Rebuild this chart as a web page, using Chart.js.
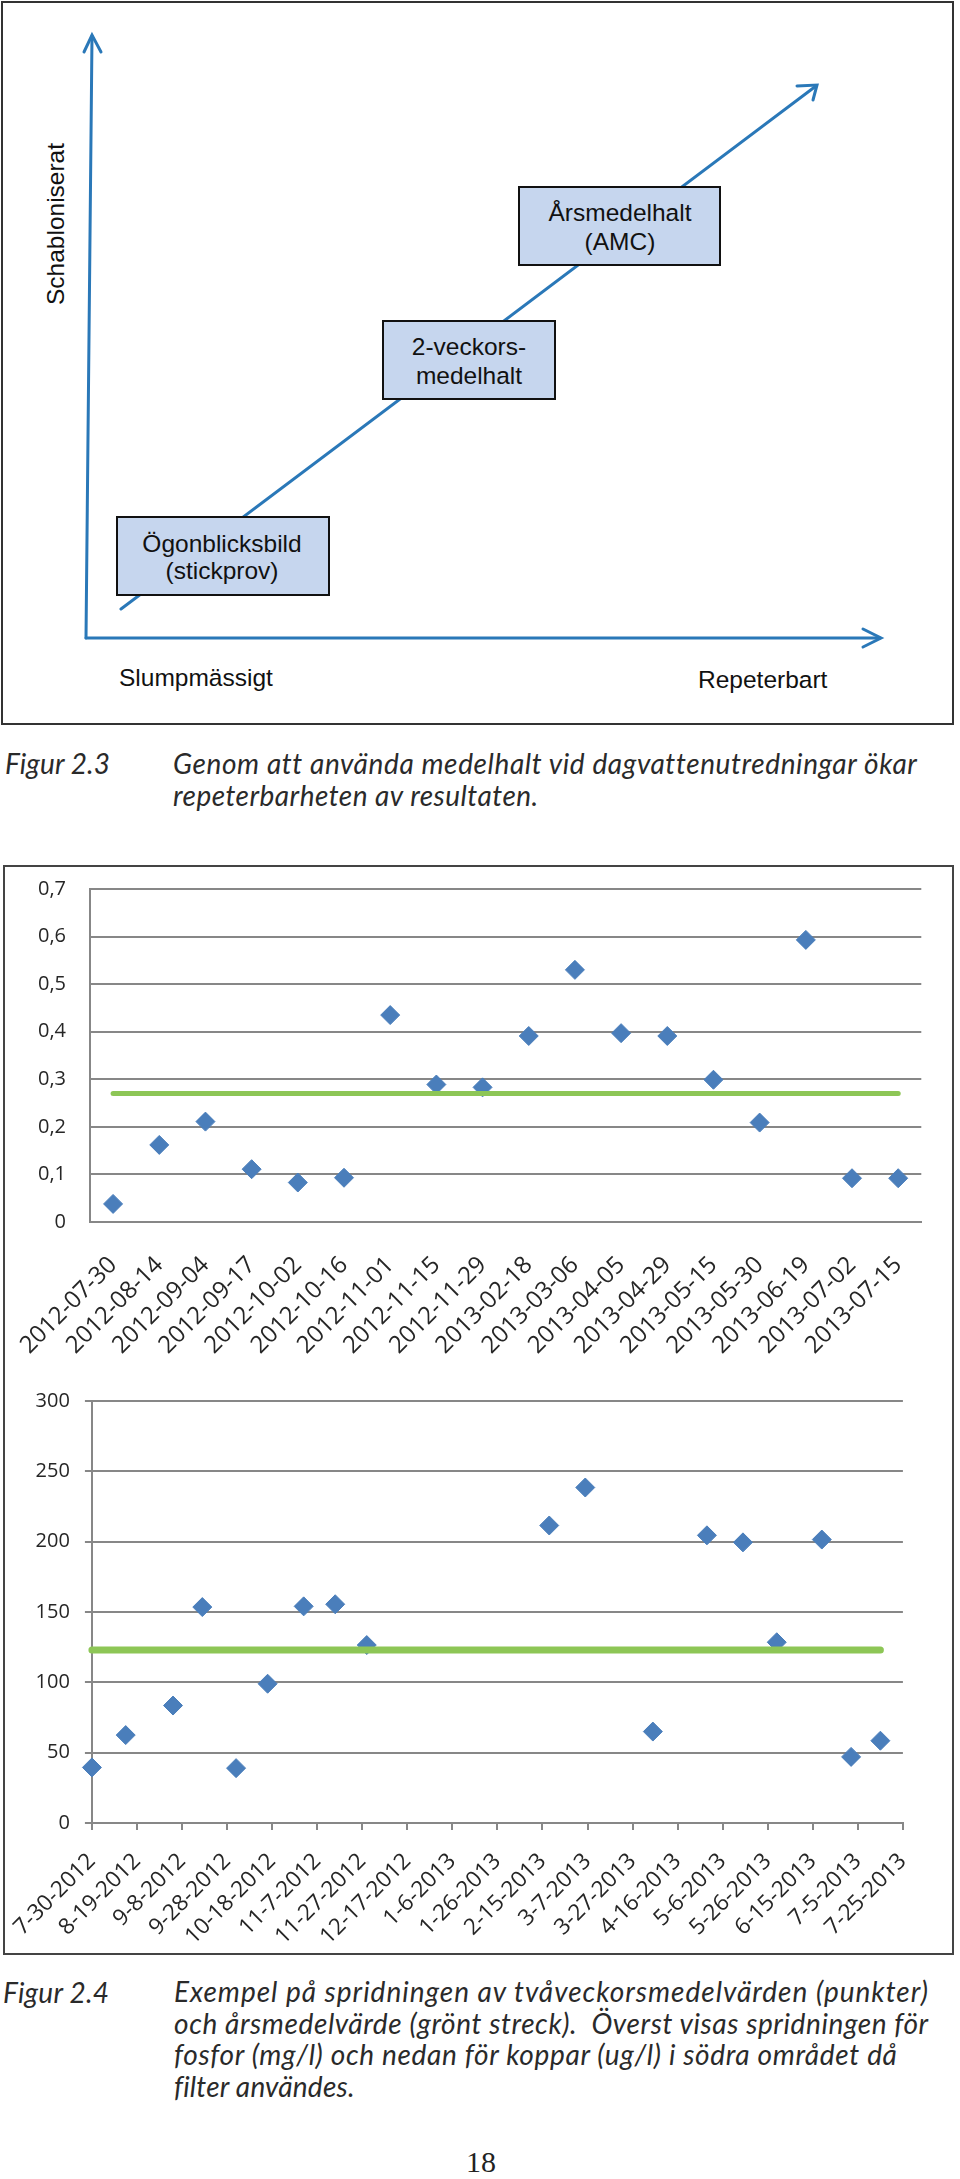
<!DOCTYPE html>
<html lang="sv">
<head>
<meta charset="utf-8">
<title>Figur 2.3 och 2.4</title>
<script src="https://cdn.jsdelivr.net/npm/chart.js@4.4.1/dist/chart.umd.min.js"></script>
<style>
  html, body { margin: 0; padding: 0; background: #fff; }
  #page { position: relative; width: 960px; height: 2179px; overflow: hidden; }
  .abs { position: absolute; }
  .caption { font-family: "Lato", "Open Sans", sans-serif; font-style: italic; font-size: 28px; line-height: 32px; color: #2a2a2a; white-space: nowrap; }
  .caption span { display: inline-block; }
  #chartBox { left: 3px; top: 865px; width: 947px; height: 1086px; border: 2px solid #444; }
  #pageNo { left: 0; width: 962px; top: 2145px; text-align: center; font-family: "Liberation Serif", "DejaVu Serif", serif; font-size: 30px; color: #222; }
</style>
</head>
<body>
<div id="page">

  <!-- Figur 2.3: schematisk figur -->
  <svg class="abs" style="left:0;top:0" width="960" height="730" xmlns="http://www.w3.org/2000/svg">
    <rect x="2" y="2" width="951" height="722" fill="none" stroke="#333" stroke-width="2"/>
    <g stroke="#2A78B8" stroke-width="3" fill="none" stroke-linecap="round">
      <line x1="86" y1="638" x2="92" y2="36"/>
      <polyline points="84,52 92,35 101,52"/>
      <line x1="86" y1="638" x2="880" y2="638"/>
      <polyline points="863,629 881,638 863,647"/>
      <line x1="121" y1="609" x2="816" y2="86"/>
      <polyline points="797,86 817,85 813,100"/>
    </g>
    <g fill="#C6D6EE" stroke="#111" stroke-width="2">
      <rect x="117" y="517" width="212" height="78"/>
      <rect x="383" y="321" width="172" height="78"/>
      <rect x="519" y="187" width="201" height="78"/>
    </g>
    <g font-family="Liberation Sans, Arial, sans-serif" font-size="24.5" fill="#111" text-anchor="middle" dominant-baseline="central">
      <text x="222" y="543">Ögonblicksbild</text>
      <text x="222" y="570">(stickprov)</text>
      <text x="469" y="346">2-veckors-</text>
      <text x="469" y="375">medelhalt</text>
      <text x="620" y="212">Årsmedelhalt</text>
      <text x="620" y="241">(AMC)</text>
      <text x="55" y="224" transform="rotate(-90 55 224)">Schabloniserat</text>
      <text x="119" y="677" text-anchor="start">Slumpmässigt</text>
      <text x="698" y="679" text-anchor="start">Repeterbart</text>
    </g>
  </svg>

  <div class="abs caption" style="left:5px;top:747px"><span data-w="105">Figur 2.3</span></div>
  <div class="abs caption" style="left:173px;top:747px"><span data-w="741">Genom att använda medelhalt vid dagvattenutredningar ökar</span><br><span data-w="365">repeterbarheten av resultaten.</span></div>

  <!-- Figur 2.4: diagram -->
  <div id="chartBox" class="abs"></div>
  <canvas id="fosforChart" class="abs" style="left:0;top:860px" width="940" height="520"></canvas>
  <canvas id="kopparChart" class="abs" style="left:0;top:1370px" width="940" height="590"></canvas>

  <div class="abs caption" style="left:3px;top:1976px"><span data-w="106">Figur 2.4</span></div>
  <div class="abs caption" style="left:174px;top:1976px;line-height:31.7px"><span data-w="754">Exempel på spridningen av tvåveckorsmedelvärden (punkter)</span><br><span data-w="754">och årsmedelvärde (grönt streck).&nbsp; Överst visas spridningen för</span><br><span data-w="723">fosfor (mg/l) och nedan för koppar (ug/l) i södra området då</span><br><span data-w="180">filter användes.</span></div>

  <div id="pageNo" class="abs">18</div>
</div>

<script>
// Provtagningsdatum (tvåveckorsprover)
const sampleDates = [
  "2012-07-30", "2012-08-14", "2012-09-04", "2012-09-17", "2012-10-02", "2012-10-16",
  "2012-11-01", "2012-11-15", "2012-11-29", "2013-02-18", "2013-03-06", "2013-04-05",
  "2013-04-29", "2013-05-15", "2013-05-30", "2013-06-19", "2013-07-02", "2013-07-15"
];

// Fosfor (mg/l), tvåveckorsmedelvärden
const fosforValues = [
  0.038, 0.162, 0.211, 0.111, 0.083, 0.093, 0.435, 0.289, 0.283,
  0.391, 0.530, 0.397, 0.391, 0.299, 0.209, 0.593, 0.092, 0.092
];
const fosforMean = 0.27; // årsmedelvärde
const fosforTickLabels = ["0", "0,1", "0,2", "0,3", "0,4", "0,5", "0,6", "0,7"];

// Koppar (ug/l), tvåveckorsmedelvärden
const kopparValues = [
  39.5, 62.5, 83.5, 153.5, 39, 99, 154, 155.5, 126.5,
  211.5, 238.5, 65, 204.5, 199.5, 128.5, 201.5, 47, 58.5
];
const kopparMean = 123; // årsmedelvärde
const kopparTickLabels = [
  "7-30-2012", "8-19-2012", "9-8-2012", "9-28-2012", "10-18-2012", "11-7-2012",
  "11-27-2012", "12-17-2012", "1-6-2013", "1-26-2013", "2-15-2013", "3-7-2013",
  "3-27-2013", "4-16-2013", "5-6-2013", "5-26-2013", "6-15-2013", "7-5-2013", "7-25-2013"
];
const kopparYTicks = [0, 50, 100, 150, 200, 250, 300];

const GRID = "#878787";
const POINT = "#4A7EBB";
const GREEN = "#8DC656";
const Y_FONT = { family: "'Open Sans', sans-serif", size: 20 };
const TICK_COLOR = "#262626";

// dagar från första provet (x-axel i kopparfiguren)
function dayOffset(d) {
  return Math.round((Date.parse(d) - Date.parse(sampleDates[0])) / 86400000);
}

// justera bokstavsavståndet så att bildtexterna får rätt bredd
document.querySelectorAll(".caption span[data-w]").forEach(function (span) {
  const target = parseFloat(span.dataset.w);
  const n = span.textContent.length;
  const spacing = (target - span.getBoundingClientRect().width) / Math.max(n - 1, 1);
  span.style.letterSpacing = spacing.toFixed(2) + "px";
});

// flytta/justera så att ritytan hamnar där den ska på sidan
function pinChartArea(chart, canvas, target) {
  for (let k = 0; k < 3; k++) {
    const a = chart.chartArea;
    const p = chart.options.layout.padding;
    p.left += target.left - a.left;
    p.right += a.right - target.right;
    p.bottom += (a.bottom - a.top) - (target.bottom - target.top);
    chart.update();
  }
  canvas.style.top = (target.top - chart.chartArea.top) + "px";
}

Chart.defaults.animation = false;

// Fosfor – kategoriaxel
const fosforCanvas = document.getElementById("fosforChart");
const fosforChart = new Chart(fosforCanvas, {
  type: "line",
  data: {
    labels: sampleDates,
    datasets: [
      {
        label: "Årsmedelvärde",
        data: [
          { x: sampleDates[0], y: fosforMean },
          { x: sampleDates[sampleDates.length - 1], y: fosforMean }
        ],
        borderColor: GREEN,
        borderWidth: 5,
        borderCapStyle: "round",
        pointRadius: 0,
        clip: false,
        order: 0
      },
      {
        label: "Fosfor",
        data: fosforValues,
        showLine: false,
        pointStyle: "rectRot",
        pointRadius: 9.5,
        backgroundColor: POINT,
        borderColor: POINT,
        borderWidth: 1,
        clip: false,
        order: 1
      }
    ]
  },
  options: {
    responsive: false,
    layout: { padding: { top: 0, right: 18, left: 0, bottom: 0 } },
    plugins: { legend: { display: false }, tooltip: { enabled: false } },
    scales: {
      x: {
        type: "category",
        offset: true,
        grid: { display: false },
        border: { display: true, color: GRID, width: 2 },
        ticks: {
          minRotation: 45,
          maxRotation: 45,
          autoSkip: false,
          padding: 21,
          font: { family: "'Open Sans', sans-serif", size: 24 },
          color: TICK_COLOR
        },
        afterFit: function (scale) { scale.height = 135; }
      },
      y: {
        min: 0,
        max: 0.7,
        grid: { color: GRID, lineWidth: 2, drawTicks: false },
        border: { display: true, color: GRID, width: 2 },
        ticks: {
          stepSize: 0.1,
          padding: 24,
          font: Y_FONT,
          color: TICK_COLOR,
          callback: function (value, index) { return fosforTickLabels[index]; }
        },
        afterFit: function (scale) { scale.width = 90; }
      }
    }
  }
});
pinChartArea(fosforChart, fosforCanvas, { top: 889, bottom: 1222, left: 90, right: 922 });

// Koppar – linjär datumaxel (20 dagars steg)
const kopparCanvas = document.getElementById("kopparChart");
const kopparChart = new Chart(kopparCanvas, {
  type: "line",
  data: {
    datasets: [
      {
        label: "Årsmedelvärde",
        data: [
          { x: dayOffset(sampleDates[0]), y: kopparMean },
          { x: dayOffset(sampleDates[sampleDates.length - 1]), y: kopparMean }
        ],
        borderColor: GREEN,
        borderWidth: 7,
        borderCapStyle: "round",
        pointRadius: 0,
        clip: false,
        order: 0
      },
      {
        label: "Koppar",
        data: sampleDates.map(function (d, i) { return { x: dayOffset(d), y: kopparValues[i] }; }),
        showLine: false,
        pointStyle: "rectRot",
        pointRadius: 9.5,
        backgroundColor: POINT,
        borderColor: POINT,
        borderWidth: 1,
        clip: false,
        order: 1
      }
    ]
  },
  options: {
    responsive: false,
    layout: { padding: { top: 0, right: 34, left: 0, bottom: 0 } },
    plugins: { legend: { display: false }, tooltip: { enabled: false } },
    scales: {
      x: {
        type: "linear",
        min: 0,
        max: 360,
        grid: { drawOnChartArea: false, drawTicks: true, tickLength: 7, color: GRID, lineWidth: 2 },
        border: { display: true, color: GRID, width: 2 },
        ticks: {
          stepSize: 20,
          minRotation: 45,
          maxRotation: 45,
          autoSkip: false,
          padding: 18,
          font: { family: "'Open Sans', sans-serif", size: 22.5 },
          color: TICK_COLOR,
          callback: function (value, index) { return kopparTickLabels[index]; }
        },
        afterFit: function (scale) { scale.height = 125; }
      },
      y: {
        min: kopparYTicks[0],
        max: kopparYTicks[kopparYTicks.length - 1],
        grid: { color: GRID, lineWidth: 2, drawTicks: true, tickLength: 7 },
        border: { display: true, color: GRID, width: 2 },
        ticks: {
          stepSize: kopparYTicks[1] - kopparYTicks[0],
          padding: 15,
          font: Y_FONT,
          color: TICK_COLOR
        },
        afterFit: function (scale) { scale.width = 88; }
      }
    }
  }
});
pinChartArea(kopparChart, kopparCanvas, { top: 1401, bottom: 1823, left: 88, right: 906 });
</script>
</body>
</html>
